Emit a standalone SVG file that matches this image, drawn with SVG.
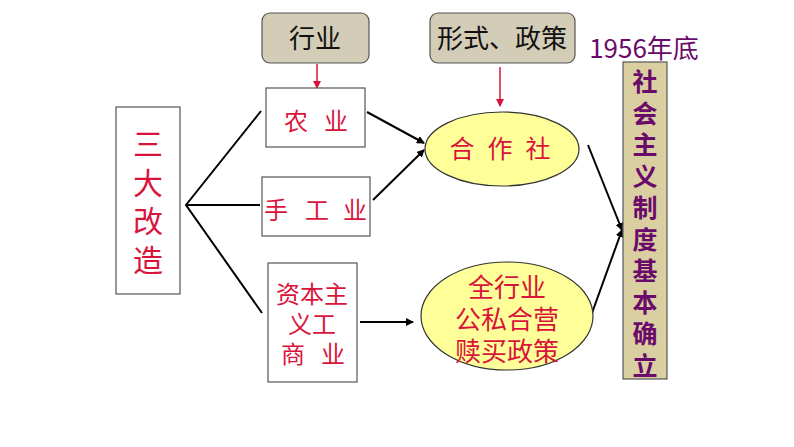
<svg xmlns="http://www.w3.org/2000/svg" width="794" height="447" viewBox="0 0 794 447">
<style>
text{font-family:"Noto Sans CJK SC","Noto Sans",sans-serif;text-anchor:middle}
.box{fill:#fff;stroke:#555;stroke-width:1.2}
.tag{fill:#d3ccb6;stroke:#555;stroke-width:1.2}
.red{fill:#d9143c}
.blk{fill:#111}
.pur{fill:#6a0a6a;font-weight:bold;font-size:25px}
.ell{fill:#ffff99;stroke:#333;stroke-width:1.2}
.ln{stroke:#000;stroke-width:2;fill:none}
.rl{stroke:#d9143c;stroke-width:1.5;fill:none}
</style>
<defs>
<marker id="ab" markerWidth="8" markerHeight="8" refX="7" refY="4" orient="auto" markerUnits="userSpaceOnUse"><path d="M0,0 L8,4 L0,8 Z" fill="#000"/></marker>
<marker id="ar" markerWidth="8" markerHeight="8" refX="7" refY="4" orient="auto" markerUnits="userSpaceOnUse"><path d="M0,0 L8,4 L0,8 Z" fill="#d9143c"/></marker>
</defs>
<rect width="794" height="447" fill="#fff"/>
<g id="connectors">
<path class="ln" d="M261,111 L186,205 L262,313 M186,205 L260,205"/>
<line class="ln" x1="367" y1="112" x2="424" y2="143" marker-end="url(#ab)"/>
<line class="ln" x1="373" y1="200" x2="424" y2="150" marker-end="url(#ab)"/>
<line class="ln" x1="360" y1="322" x2="413" y2="322" stroke-width="1.5" marker-end="url(#ab)"/>
<line class="rl" x1="317" y1="64" x2="317" y2="88" marker-end="url(#ar)"/>
<line class="rl" x1="500" y1="67" x2="500" y2="106" marker-end="url(#ar)"/>
<line class="ln" x1="588" y1="145" x2="622" y2="230" marker-end="url(#ab)"/>
<line class="ln" x1="592" y1="313" x2="622" y2="230" marker-end="url(#ab)"/>
</g>
<g id="sandagaizao">
<rect class="box" x="116" y="107" width="64" height="187"/>
<text class="red" x="148" y="129" font-size="30" writing-mode="vertical-rl" style="text-anchor:start" letter-spacing="8.5">三大改造</text>
</g>
<g id="hangye">
<rect class="tag" x="262" y="13" width="107" height="50" rx="8"/>
<text class="blk" x="315" y="48" font-size="26">行业</text>
</g>
<g id="xingshi">
<rect class="tag" x="430" y="13" width="145" height="50" rx="8"/>
<text class="blk" x="502" y="48" font-size="26">形式、政策</text>
</g>
<g id="nongye">
<rect class="box" x="266" y="88" width="99" height="59"/>
<text class="red" font-size="24"><tspan x="296" y="130">农</tspan><tspan x="336" y="130">业</tspan></text>
</g>
<g id="shougongye">
<rect class="box" x="262" y="177" width="108" height="59"/>
<text class="red" font-size="24"><tspan x="276" y="219">手</tspan><tspan x="317" y="219">工</tspan><tspan x="355" y="219">业</tspan></text>
</g>
<g id="zibenzhuyi">
<rect class="box" x="268" y="263" width="89" height="119"/>
<text class="red" font-size="24"><tspan x="312" y="303">资本主</tspan><tspan x="312" y="333">义工</tspan><tspan x="293" y="363">商</tspan><tspan x="333" y="363">业</tspan></text>
</g>
<g id="hezuoshe">
<ellipse class="ell" cx="502" cy="149" rx="77" ry="37"/>
<text class="red" font-size="25"><tspan x="462" y="158">合</tspan><tspan x="500" y="158">作</tspan><tspan x="538" y="158">社</tspan></text>
</g>
<g id="gongsiheying">
<ellipse class="ell" cx="507" cy="316" rx="86" ry="54"/>
<text class="red" font-size="26"><tspan x="507" y="297">全行业</tspan><tspan x="507" y="329">公私合营</tspan><tspan x="507" y="361">赎买政策</tspan></text>
</g>
<g id="year">
<text x="644" y="58" font-size="26" fill="#6a0a6a">1956年底</text>
</g>
<g id="shehuizhuyi">
<rect x="623" y="62" width="44" height="317" fill="#d9cfa0" stroke="#555" stroke-width="1.2"/>
<text class="pur" x="645" y="69" writing-mode="vertical-rl" style="text-anchor:start" letter-spacing="6.5">社会主义制度基本确立</text>
</g>
</svg>
